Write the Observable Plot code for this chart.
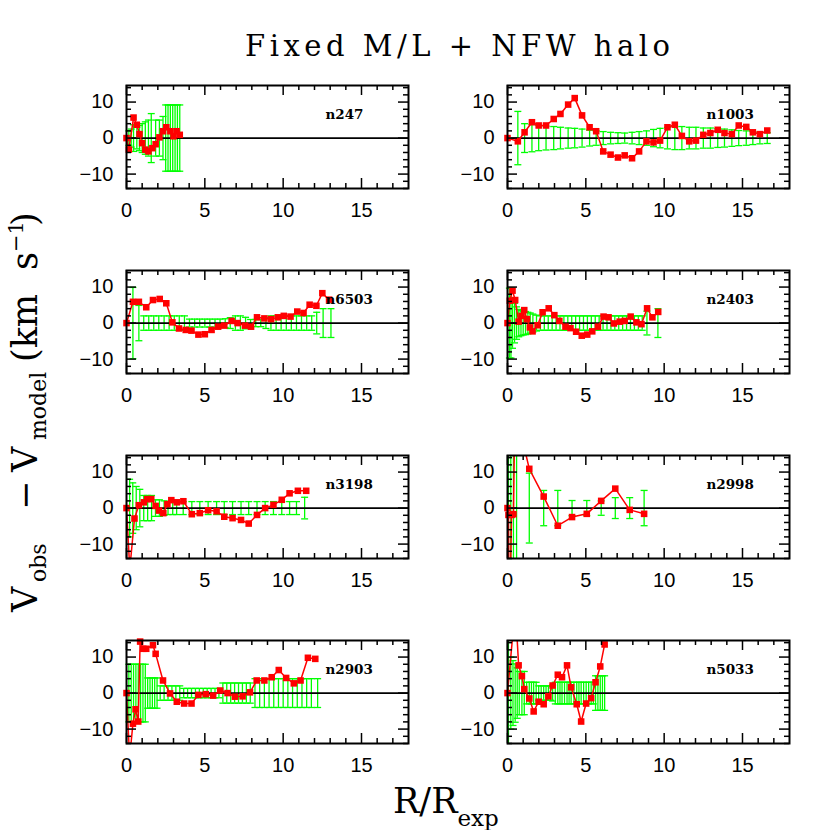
<!DOCTYPE html>
<html><head><meta charset="utf-8">
<script src="https://cdn.jsdelivr.net/npm/d3@7"></script>
<script src="https://cdn.jsdelivr.net/npm/@observablehq/plot@0.6"></script>
<style>
html,body{margin:0;padding:0;background:#fff;}
#wrap{position:relative;width:830px;height:830px;overflow:hidden;background:#fff;}
.panel{position:absolute;}
#labels{position:absolute;left:0;top:0;}
</style></head><body>
<div id="wrap">
<svg id="labels" width="830" height="830" font-family="DejaVu Serif" fill="black">
  <text x="245" y="56" font-size="29" textLength="425" lengthAdjust="spacing">Fixed M/L + NFW halo</text>
  <text x="393" y="813" font-size="35">R/R<tspan font-size="23" dy="13">exp</tspan></text>
  <g transform="translate(37,612) rotate(-90)" font-size="35">
    <text x="0" y="0">V</text>
    <text x="30" y="9" font-size="22">obs</text>
    <text x="102" y="0">−</text>
    <text x="140" y="0">V</text>
    <text x="172" y="9" font-size="22">model</text>
    <text x="250" y="0">(km</text>
    <text x="342" y="0">s</text>
    <text x="360" y="-14" font-size="21">−1</text>
    <text x="386" y="0">)</text>
  </g>
</svg>
</div>
<script>
// ---- tick values ----
const xMajor = [0, 5, 10, 15];
const xMinor = [1, 2, 3, 4, 6, 7, 8, 9, 11, 12, 13, 14, 16, 17];
const yMajor = [-10, 0, 10];
const yMinor = [-14, -12, -8, -6, -4, -2, 2, 4, 6, 8, 12, 14];

// ---- n247 ----
const n247_x = [0, 0.15, 0.45, 0.66, 0.83, 1.0, 1.2, 1.4, 1.65, 1.86, 2.1, 2.33, 2.54, 2.8, 3.0, 3.2, 3.4];
const n247_y = [0, -3.2, 5.7, 3.7, 1.1, -1.4, -3.2, -3.7, -2.8, -1.7, 0.2, 1.9, 3.0, 1.9, 0.5, 1.9, 0.9];
const n247_ex = [0.15, 0.3, 0.45, 0.66, 0.83, 1.0, 1.2, 1.4, 1.58, 1.86, 2.1, 2.33, 2.5, 2.65, 2.8, 2.95, 3.1, 3.25, 3.4];
const n247_e = [2.0, 2.5, 3.7, 3.0, 3.5, 4.0, 4.5, 5.0, 6.8, 5.0, 5.0, 6.0, 9.2, 9.2, 9.2, 9.2, 9.2, 9.2, 9.2];

// ---- n1003 ----
const n1003_x = [0, 0.66, 1.09, 1.56, 1.99, 2.46, 2.95, 3.38, 3.87, 4.29, 4.76, 5.24, 5.66, 6.11, 6.58, 7.05, 7.48, 7.95, 8.40, 8.87, 9.32, 9.74, 10.21, 10.68, 11.13, 11.60, 12.03, 12.50, 12.95, 13.42, 13.85, 14.32, 14.76, 15.24, 15.66, 16.11, 16.58];
const n1003_y = [0, -0.9, 1.6, 4.4, 3.5, 3.5, 5.3, 6.7, 9.3, 11.1, 6.3, 3.0, 1.9, -3.7, -4.6, -5.4, -4.8, -5.6, -3.7, -0.9, -1.2, -0.7, 3.0, 3.7, 0.6, -0.9, -0.7, 0.9, 1.4, 2.3, 1.4, 1.1, 3.5, 3.1, 1.6, 1.1, 2.1];
const n1003_ex = [0.66, 1.09, 1.56, 1.99, 2.46, 2.95, 3.38, 3.87, 4.29, 4.76, 5.24, 5.66, 6.11, 6.58, 7.05, 7.48, 7.95, 8.40, 8.87, 9.32, 9.74, 10.21, 10.68, 11.13, 11.60, 12.03, 12.50, 12.95, 13.42, 13.85, 14.32, 14.76, 15.24, 15.66, 16.11, 16.58];
const n1003_e = [7.4, 4.0, 3.8, 3.5, 3.3, 3.2, 3.0, 2.8, 2.7, 2.5, 2.2, 2.0, 1.8, 1.6, 1.5, 1.4, 1.6, 1.8, 2.0, 2.4, 2.7, 3.0, 3.2, 3.2, 3.0, 3.0, 2.8, 2.8, 2.6, 2.5, 2.3, 2.1, 2.0, 1.8, 1.6, 1.5];

// ---- n6503 ----
const n6503_x = [0, 0.41, 0.79, 1.26, 1.69, 2.12, 2.54, 2.93, 3.35, 3.78, 4.15, 4.59, 5.0, 5.43, 5.85, 6.24, 6.71, 7.09, 7.56, 7.95, 8.33, 8.80, 9.23, 9.66, 10.04, 10.47, 10.90, 11.30, 11.69, 12.12, 12.50, 12.93];
const n6503_y = [0, 5.9, 5.9, 4.4, 6.4, 6.7, 5.5, 0.2, -1.5, -1.9, -2.1, -3.2, -3.1, -1.9, -1.0, -0.7, 0.6, 0, -0.7, -1.0, 1.6, 1.3, 1.1, 1.6, 2.0, 1.8, 3.2, 2.8, 5.1, 4.8, 8.3, 6.5];
const n6503_ex = [0.41, 0.79, 1.10, 1.42, 1.74, 2.06, 2.40, 2.72, 3.05, 3.37, 3.70, 4.02, 4.35, 4.67, 5.00, 5.32, 5.65, 5.97, 6.30, 6.62, 6.95, 7.27, 7.60, 7.92, 8.25, 8.57, 8.90, 9.22, 9.55, 9.87, 10.20, 10.52, 10.85, 11.17, 11.50, 11.82, 12.14, 12.55, 13.05];
const n6503_e = [9.9, 4.9, 2.0, 2.0, 2.0, 2.0, 2.0, 2.0, 2.0, 2.0, 2.0, 1.1, 1.1, 1.1, 1.1, 1.1, 1.1, 1.1, 1.2, 1.5, 2.0, 2.0, 1.6, 1.0, 1.0, 1.0, 1.5, 2.0, 2.0, 2.0, 2.0, 2.0, 2.0, 2.0, 2.0, 2.0, 3.0, 4.0, 4.0];

// ---- n2403 ----
const n2403_x = [0, 0.15, 0.32, 0.49, 0.71, 0.9, 1.07, 1.24, 1.43, 1.6, 1.92, 2.24, 2.63, 2.99, 3.31, 3.70, 4.02, 4.38, 4.74, 5.09, 5.41, 5.77, 6.13, 6.45, 6.79, 7.16, 7.48, 7.86, 8.23, 8.55, 8.91, 9.25, 9.62];
const n2403_y = [0, 6.2, 9.0, 6.4, 0.4, 2.0, 3.6, 1.1, -1.2, -2.3, -0.6, 3.0, 4.1, 2.2, 0.6, -1.0, -1.4, -2.4, -3.5, -3.2, -2.3, -1.0, 1.8, 1.6, -0.1, 0.4, 0.6, 1.8, 0.2, -0.3, 4.1, 1.6, 3.1];
const n2403_ex = [0.12, 0.22, 0.32, 0.45, 0.58, 0.72, 0.86, 1.0, 1.15, 1.3, 1.45, 1.62, 1.85, 2.1, 2.35, 2.6, 2.85, 3.1, 3.35, 3.6, 3.85, 4.1, 4.35, 4.6, 4.85, 5.1, 5.35, 5.6, 5.85, 6.1, 6.35, 6.6, 6.85, 7.1, 7.35, 7.6, 7.85, 8.1, 8.35, 8.6, 8.9, 9.6];
const n2403_e = [9.7, 9.7, 7.0, 5.5, 4.5, 3.8, 3.5, 3.3, 3.2, 3.0, 2.8, 2.5, 2.2, 2.0, 2.0, 2.0, 2.0, 2.0, 2.0, 2.0, 2.0, 2.0, 2.0, 2.0, 2.0, 2.0, 2.0, 2.0, 2.0, 2.0, 2.0, 2.0, 2.0, 2.0, 2.0, 2.0, 2.0, 2.0, 2.0, 2.0, 3.3, 4.0];

// ---- n3198 ----
const n3198_x = [0, 0.21, 0.51, 0.79, 1.11, 1.32, 1.58, 1.86, 2.07, 2.35, 2.61, 2.86, 3.21, 3.63, 4.17, 4.68, 5.21, 5.75, 6.24, 6.77, 7.31, 7.80, 8.33, 8.85, 9.38, 9.91, 10.41, 10.94, 11.47];
const n3198_y = [0, -17, -2.9, 0.8, 1.6, 2.5, 2.5, 0.6, -0.7, -1.4, 1.1, 2.2, 1.6, 1.9, -1.7, -1.4, -0.6, -0.9, -2.4, -2.8, -3.3, -4.3, -1.9, 0, 0.9, 2.3, 4.1, 4.8, 4.8];
const n3198_ex = [0.2, 0.4, 0.62, 0.85, 1.1, 1.35, 1.6, 1.85, 2.1, 2.4, 2.65, 2.95, 3.2, 3.62, 4.17, 4.68, 5.21, 5.75, 6.24, 6.77, 7.31, 7.80, 8.33, 8.85, 9.38, 9.91, 10.41, 10.85, 11.37];
const n3198_e = [8.0, 7.0, 6.0, 5.2, 3.5, 3.5, 3.5, 2.3, 2.3, 2.0, 1.8, 1.8, 1.8, 1.8, 1.8, 1.8, 1.8, 1.8, 1.8, 1.8, 1.8, 1.8, 1.8, 1.8, 1.8, 1.8, 1.8, 1.8, 3.0];

// ---- n2998 ----
const n2998_x = [0, 0.06, 0.12, 0.26, 0.38, 0.47, 1.39, 2.31, 3.21, 4.12, 5.06, 5.98, 6.88, 7.80, 8.72];
const n2998_y = [0, -1.9, -35, -1.9, -1.7, 28, 10.9, 3.2, -4.9, -2.5, -1.6, 2.0, 5.4, -0.5, -1.6];
const n2998_ex = [0.06, 0.21, 0.38, 0.58, 1.39, 2.31, 3.21, 4.12, 5.06, 5.98, 6.88, 7.80, 8.72];
const n2998_e = [40, 40, 40, 40, 9.7, 4.9, 4.9, 2.1, 2.1, 2.0, 2.9, 2.9, 4.9];

// ---- n2903 ----
const n2903_x = [0, 0.2, 0.41, 0.58, 0.75, 0.87, 1.07, 1.26, 1.69, 1.86, 2.33, 2.78, 3.21, 3.68, 4.15, 4.59, 5.06, 5.53, 5.98, 6.45, 6.92, 7.41, 7.88, 8.31, 8.80, 9.27, 9.72, 10.19, 10.68, 11.11, 11.58, 12.05];
const n2903_y = [0, -18, -8.5, -4.5, -7.9, 14.3, 12.3, 12.3, 13.3, 10.9, 3.5, -0.1, -2.4, -2.9, -2.9, -0.5, -0.3, -0.7, 0.7, 0, -1.0, -0.9, 0.2, 3.5, 3.5, 4.4, 6.4, 4.2, 2.7, 3.5, 9.8, 9.5];
const n2903_ex = [0.15, 0.3, 0.45, 0.6, 0.75, 0.9, 1.05, 1.2, 1.35, 1.5, 1.65, 1.8, 1.95, 2.15, 2.4, 2.65, 2.9, 3.15, 3.4, 3.65, 3.9, 4.15, 4.4, 4.65, 4.9, 5.15, 5.4, 5.65, 5.9, 6.15, 6.4, 6.65, 6.9, 7.15, 7.4, 7.65, 7.9, 8.2, 8.5, 8.8, 9.1, 9.4, 9.7, 10.0, 10.3, 10.6, 10.9, 11.2, 11.5, 11.8, 12.2];
const n2903_e = [8, 8, 8, 8, 8, 8, 8, 8, 4.2, 4.2, 4.2, 4.2, 4.2, 2.0, 2.0, 2.0, 2.0, 2.0, 2.0, 1.3, 1.3, 1.3, 1.3, 1.3, 1.3, 1.3, 1.3, 1.3, 1.3, 2.8, 2.8, 2.8, 2.8, 2.8, 2.8, 2.8, 2.8, 4.0, 4.0, 4.0, 4.0, 4.0, 4.0, 4.0, 4.0, 4.0, 4.0, 4.0, 4.0, 4.0, 4.0];

// ---- n5033 ----
const n5033_x = [0, 0.5, 0.71, 0.92, 1.07, 1.39, 1.67, 1.99, 2.31, 2.61, 2.88, 3.21, 3.48, 3.80, 4.06, 4.42, 4.70, 5.02, 5.34, 5.62, 5.92, 6.20];
const n5033_y = [0, 24, 7.7, 4.7, 1.1, -1.5, -5.1, -2.4, -3.1, -0.9, 2.1, 5.1, 4.4, 7.7, 1.6, -3.1, -7.9, -2.9, -1.4, 3.0, 7.4, 13.5];
const n5033_ex = [0.06, 0.21, 0.35, 0.49, 0.62, 0.75, 0.92, 1.07, 1.22, 1.39, 1.53, 1.67, 1.83, 1.99, 2.15, 2.31, 2.46, 2.61, 2.75, 2.88, 3.05, 3.21, 3.35, 3.48, 3.64, 3.80, 3.93, 4.06, 4.24, 4.42, 4.56, 4.70, 4.86, 5.02, 5.18, 5.34, 5.48, 5.62, 5.77, 5.92, 6.06, 6.20];
const n5033_e = [25, 10, 9, 8.1, 7, 6, 6, 6, 3, 3, 3, 3, 3, 2, 2, 2, 2, 2, 2, 2.2, 3, 3, 3, 3, 3, 3, 3, 3, 3, 3, 3, 3, 3, 3, 3, 3, 3, 4.8, 4.8, 4.8, 4.8, 4.8];

// ---- layout ----
const FW = 282, FH = 103, ML = 50, MR = 8, MT = 8, MB = 42;
const colLeft = [126, 507];
const rowTop = [85, 270, 455, 640];
const YLO = -14, YHI = 14.6;

const capSymbol = {draw(ctx) { ctx.moveTo(-3.5, 0); ctx.lineTo(3.5, 0); }};

function panel(name, px, py, ex, ee, col, row) {
  const pts = px.map((x, i) => ({x, y: py[i]}));
  const errs = ex.map((x, i) => ({x, e: ee[i]}));
  const inRange = d => d.y >= YLO && d.y <= YHI;
  const green = "#00ff00";
  const plot = Plot.plot({
    width: FW + ML + MR, height: FH + MT + MB,
    marginLeft: ML, marginRight: MR, marginTop: MT, marginBottom: MB,
    style: {background: "transparent", fontFamily: "Liberation Sans", fontSize: "20px", color: "black", overflow: "visible"},
    x: {domain: [0, 18]},
    y: {domain: [YLO, YHI]},
    marks: [
      Plot.ruleX(errs, {x: "x", y1: d => -d.e, y2: d => d.e, stroke: green, strokeWidth: 1.3, clip: true}),
      Plot.dot(errs.filter(d => d.e <= YHI), {x: "x", y: "e", symbol: capSymbol, stroke: green, fill: "none", strokeWidth: 1.3}),
      Plot.dot(errs.filter(d => -d.e >= YLO), {x: "x", y: d => -d.e, symbol: capSymbol, stroke: green, fill: "none", strokeWidth: 1.3}),
      Plot.ruleY([0], {stroke: "black", strokeWidth: 1.6}),
      Plot.line(pts, {x: "x", y: "y", stroke: "#ff0000", strokeWidth: 1.5, clip: true}),
      Plot.dot(pts, {x: "x", y: "y", filter: inRange, symbol: "square", fill: "#ff0000", r: 3.7}),
      Plot.text([name], {text: d => d, frameAnchor: "top-right", dx: -83, dy: 24, textAnchor: "start",
        fontFamily: "DejaVu Serif", fontWeight: "bold", fontSize: 13.5, fill: "black"}),
      Plot.tickX(xMajor, {x: d => d, insetTop: FH - 10, stroke: "black", strokeWidth: 1.5}),
      Plot.tickX(xMajor, {x: d => d, insetBottom: FH - 10, stroke: "black", strokeWidth: 1.5}),
      Plot.tickX(xMinor, {x: d => d, insetTop: FH - 5, stroke: "black", strokeWidth: 1.5}),
      Plot.tickX(xMinor, {x: d => d, insetBottom: FH - 5, stroke: "black", strokeWidth: 1.5}),
      Plot.tickY(yMajor, {y: d => d, insetRight: FW - 10, stroke: "black", strokeWidth: 1.5}),
      Plot.tickY(yMajor, {y: d => d, insetLeft: FW - 10, stroke: "black", strokeWidth: 1.5}),
      Plot.tickY(yMinor, {y: d => d, insetRight: FW - 5, stroke: "black", strokeWidth: 1.5}),
      Plot.tickY(yMinor, {y: d => d, insetLeft: FW - 5, stroke: "black", strokeWidth: 1.5}),
      Plot.frame({stroke: "black", strokeWidth: 2}),
      Plot.axisX({ticks: xMajor, tickSize: 0, tickPadding: 14, label: null, fontSize: 20, fontFamily: "Liberation Sans"}),
      Plot.axisY({ticks: yMajor, tickSize: 0, tickPadding: 13, label: null, fontSize: 20, fontFamily: "Liberation Sans"})
    ]
  });
  plot.classList.add("panel");
  plot.style.position = "absolute";
  plot.style.left = (colLeft[col] - ML) + "px";
  plot.style.top = (rowTop[row] - MT) + "px";
  document.getElementById("wrap").appendChild(plot);
}

panel("n247", n247_x, n247_y, n247_ex, n247_e, 0, 0);
panel("n1003", n1003_x, n1003_y, n1003_ex, n1003_e, 1, 0);
panel("n6503", n6503_x, n6503_y, n6503_ex, n6503_e, 0, 1);
panel("n2403", n2403_x, n2403_y, n2403_ex, n2403_e, 1, 1);
panel("n3198", n3198_x, n3198_y, n3198_ex, n3198_e, 0, 2);
panel("n2998", n2998_x, n2998_y, n2998_ex, n2998_e, 1, 2);
panel("n2903", n2903_x, n2903_y, n2903_ex, n2903_e, 0, 3);
panel("n5033", n5033_x, n5033_y, n5033_ex, n5033_e, 1, 3);
</script>
</body></html>
